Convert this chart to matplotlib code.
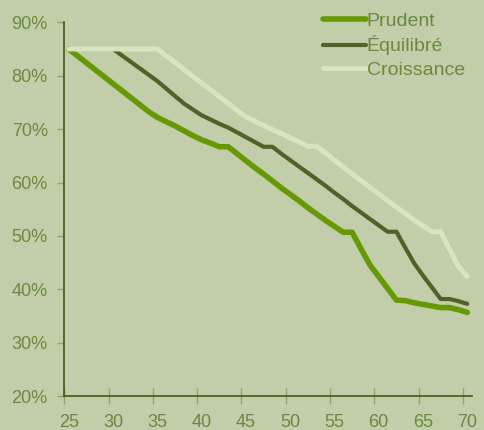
import numpy as np
import matplotlib
matplotlib.use("Agg")
import matplotlib.pyplot as plt
from matplotlib.ticker import FixedLocator, NullFormatter

plt.rcParams['font.family'] = ['Liberation Sans', 'DejaVu Sans']

# données (âge 25 à 70)
ages = np.arange(25, 71)
prudent = [85.0, 83.7, 82.4, 81.1, 79.8, 78.5, 77.2, 75.9, 74.6, 73.3,
           72.2, 71.4, 70.6, 69.7, 68.8, 68.0, 67.4, 66.7, 66.7, 65.4,
           64.1, 62.8, 61.6, 60.3, 59.0, 57.8, 56.6, 55.3, 54.1, 52.9,
           51.8, 50.7, 50.7, 47.6, 44.6, 42.4, 40.2, 38.0, 37.9, 37.5,
           37.2, 36.9, 36.6, 36.6, 36.2, 35.7]
equilibre = [85.0, 85.0, 85.0, 85.0, 85.0, 85.0, 83.8, 82.6, 81.4, 80.2,
             79.0, 77.6, 76.2, 74.8, 73.7, 72.6, 71.8, 71.0, 70.3, 69.4,
             68.5, 67.6, 66.7, 66.7, 65.4, 64.2, 63.0, 61.8, 60.6, 59.4,
             58.1, 56.9, 55.6, 54.4, 53.2, 52.0, 50.8, 50.8, 47.8, 44.9,
             42.6, 40.4, 38.2, 38.2, 37.8, 37.3]
croissance = [85.0, 85.0, 85.0, 85.0, 85.0, 85.0, 85.0, 85.0, 85.0, 85.0,
              85.0, 83.7, 82.5, 81.2, 79.9, 78.6, 77.4, 76.1, 74.8, 73.5,
              72.3, 71.5, 70.7, 69.9, 69.2, 68.4, 67.6, 66.8, 66.8, 65.5,
              64.2, 62.9, 61.6, 60.4, 59.1, 57.9, 56.6, 55.4, 54.2, 53.0,
              51.9, 50.8, 50.8, 47.5, 44.3, 42.4]
labels = ['Prudent', 'Équilibré', 'Croissance']

bg = '#C2CEAA'
txt = '#6B8840'

fig = plt.figure(figsize=(4.85, 4.3), dpi=100, facecolor=bg)
ax = fig.add_axes([0.1326, 0.0784, 0.840, 0.8698], facecolor=bg)

ax.plot(ages, prudent, color='#669900', lw=4.0, solid_capstyle='round',
        solid_joinstyle='round', label=labels[0])
ax.plot(ages, equilibre, color='#4F6228', lw=3.0, solid_capstyle='round',
        solid_joinstyle='round', label=labels[1])
ax.plot(ages, croissance, color='#D7E4BD', lw=3.6, solid_capstyle='round',
        solid_joinstyle='round', label=labels[2])

ax.set_xlim(24.5, 70.5)
ax.set_ylim(20, 90)

# graduations entre catégories, étiquettes au centre
ax.xaxis.set_major_locator(FixedLocator(np.arange(24.5, 70, 5)))
ax.xaxis.set_major_formatter(NullFormatter())
ax.set_xticks(np.arange(25, 71, 5), [str(a) for a in range(25, 71, 5)], minor=True)
ax.tick_params(axis='x', which='major', direction='inout', length=11,
               color='#8FA56A', width=1)
ax.tick_params(axis='x', which='minor', length=0, pad=13, labelsize=13,
               labelcolor=txt)

yt = np.arange(20, 91, 10)
ax.set_yticks(yt, [f'{v}%' for v in yt])
ax.tick_params(axis='y', direction='out', length=5, color='#8FA56A', width=1,
               pad=7, labelsize=13, labelcolor=txt)

for s in ['top', 'right']:
    ax.spines[s].set_visible(False)
for s in ['left', 'bottom']:
    ax.spines[s].set_color('#3F5A12')
    ax.spines[s].set_linewidth(1.2)

leg = fig.legend(loc='upper left', bbox_to_anchor=(0.666, 0.972), frameon=False,
                 fontsize=14, handlelength=2.2, handletextpad=0.05,
                 labelspacing=0.3, borderpad=0, borderaxespad=0)
for t in leg.get_texts():
    t.set_color(txt)

fig.savefig('out.png', dpi=100, facecolor=bg)
